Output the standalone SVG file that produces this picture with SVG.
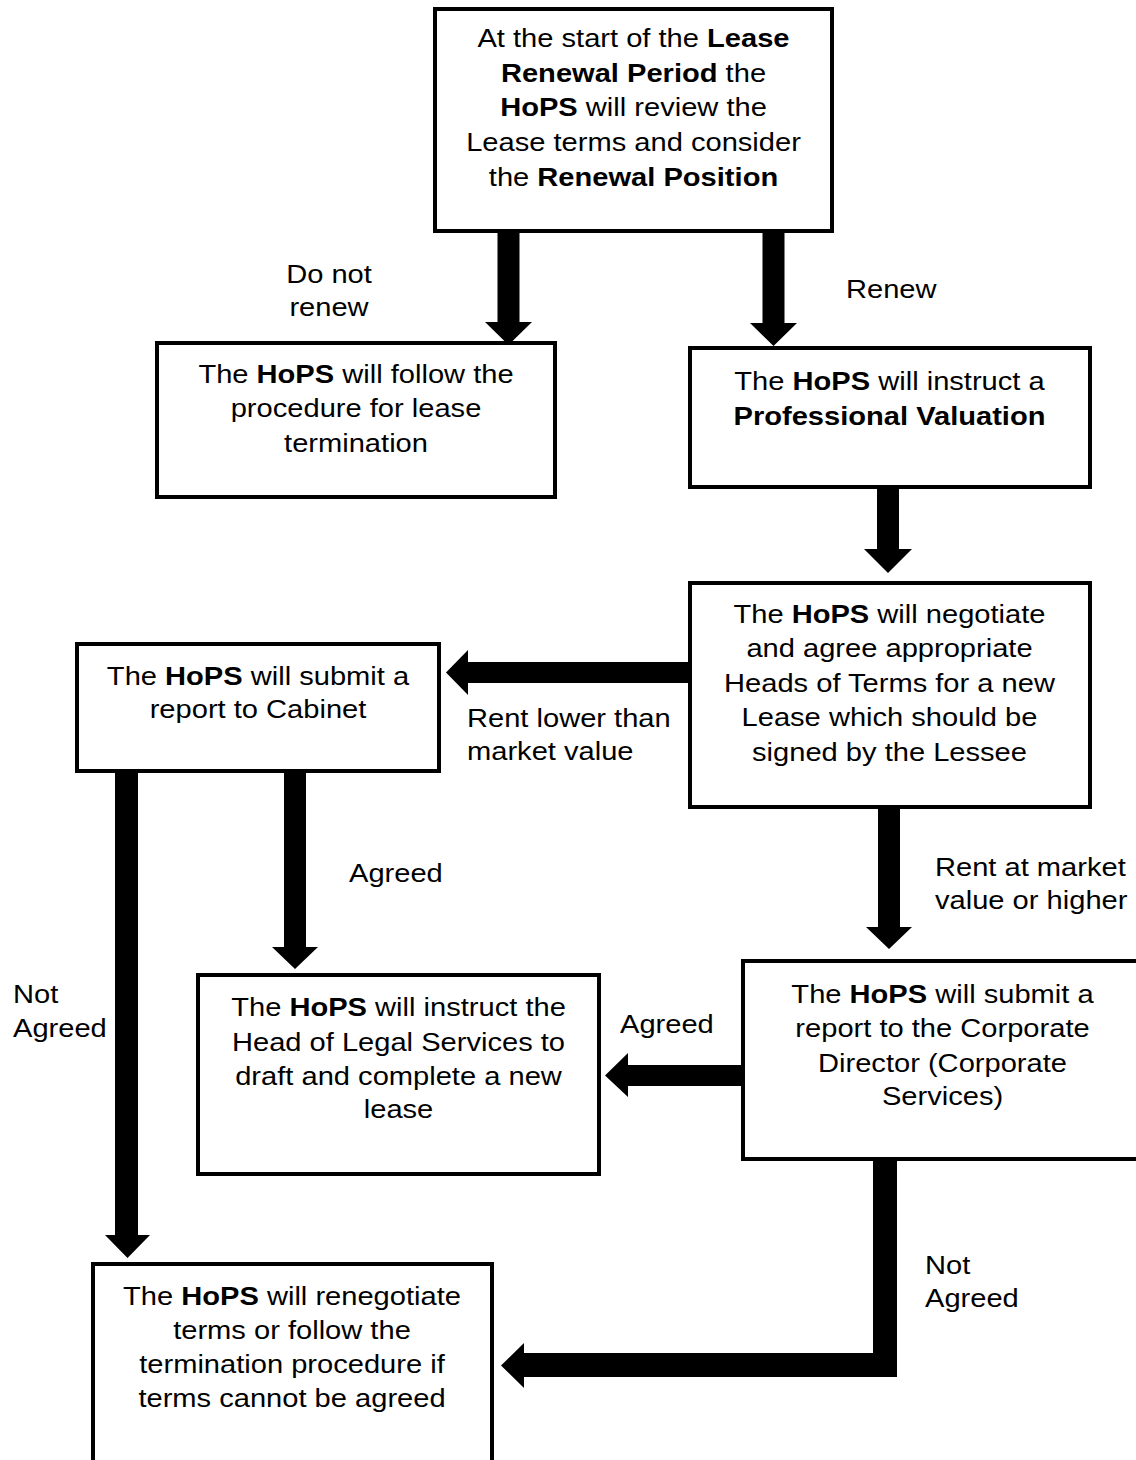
<svg xmlns="http://www.w3.org/2000/svg" width="1136" height="1460" viewBox="0 0 1136 1460">
  <style>
    .box { fill: #ffffff; stroke: #000000; stroke-width: 4; }
    .arrow { fill: #000000; }
    text { font-family: "Liberation Sans", Arial, sans-serif; font-size: 25.6px; fill: #000000; }
    .c { text-anchor: middle; }
    .l { text-anchor: start; }
    .b { font-weight: bold; }
  </style>
  <rect x="0" y="0" width="1136" height="1460" fill="#ffffff"/>

  <!-- connectors: thick block arrows -->
  <g id="connectors">
    <!-- start -> do not renew -->
    <polygon class="arrow" points="497.5,231 519.5,231 519.5,322 532,322 508.5,345 485,322 497.5,322"/>
    <!-- start -> renew -->
    <polygon class="arrow" points="762.5,231 784.5,231 784.5,323 797,323 773.5,346 750,323 762.5,323"/>
    <!-- valuation -> negotiate -->
    <polygon class="arrow" points="877,487 899,487 899,549 912,549 888,573 864,549 877,549"/>
    <!-- negotiate -> cabinet -->
    <polygon class="arrow" points="690,662 690,683 468,683 468,695 446,672.5 468,650 468,662"/>
    <!-- negotiate -> corporate director -->
    <polygon class="arrow" points="878,807 900,807 900,927 912,927 889,949 866,927 878,927"/>
    <!-- cabinet -> legal (agreed) -->
    <polygon class="arrow" points="284,772 306,772 306,947 318,947 295,969 272,947 284,947"/>
    <!-- cabinet -> renegotiate (not agreed) -->
    <polygon class="arrow" points="115,772 138,772 138,1235 150,1235 127.5,1258 105,1235 115,1235"/>
    <!-- corporate director -> legal (agreed) -->
    <polygon class="arrow" points="743,1065 743,1086 628,1086 628,1097 605,1075.5 628,1053 628,1065"/>
    <!-- corporate director -> renegotiate (not agreed) -->
    <polygon class="arrow" points="873,1159 897,1159 897,1377 524,1377 524,1388 501,1365.5 524,1343 524,1353 873,1353"/>
  </g>

  <!-- connector labels -->
  <g id="labels">
    <text class="c" transform="translate(329 0) scale(1.137 1)" x="0" y="283">Do not</text>
    <text class="c" transform="translate(329 0) scale(1.137 1)" x="0" y="316">renew</text>
    <text class="l" transform="translate(846 0) scale(1.137 1)" x="0" y="298">Renew</text>
    <text class="l" transform="translate(467 0) scale(1.137 1)" x="0" y="727">Rent lower than</text>
    <text class="l" transform="translate(467 0) scale(1.137 1)" x="0" y="760">market value</text>
    <text class="l" transform="translate(349 0) scale(1.137 1)" x="0" y="882">Agreed</text>
    <text class="l" transform="translate(935 0) scale(1.137 1)" x="0" y="876">Rent at market</text>
    <text class="l" transform="translate(935 0) scale(1.137 1)" x="0" y="909">value or higher</text>
    <text class="l" transform="translate(13 0) scale(1.137 1)" x="0" y="1003">Not</text>
    <text class="l" transform="translate(13 0) scale(1.137 1)" x="0" y="1037">Agreed</text>
    <text class="l" transform="translate(620 0) scale(1.137 1)" x="0" y="1033">Agreed</text>
    <text class="l" transform="translate(925 0) scale(1.137 1)" x="0" y="1274">Not</text>
    <text class="l" transform="translate(925 0) scale(1.137 1)" x="0" y="1307">Agreed</text>
  </g>

  <!-- start of lease renewal period -->
  <g id="node-start">
    <rect class="box" x="435" y="9" width="397" height="222"/>
    <g transform="translate(633.5 0) scale(1.137 1)">
      <text class="c" x="0" y="47">At the start of the <tspan class="b">Lease</tspan></text>
      <text class="c" x="0" y="81.7"><tspan class="b">Renewal Period</tspan> the</text>
      <text class="c" x="0" y="116.4"><tspan class="b">HoPS</tspan> will review the</text>
      <text class="c" x="0" y="151.1">Lease terms and consider</text>
      <text class="c" x="0" y="185.8">the <tspan class="b">Renewal Position</tspan></text>
    </g>
  </g>

  <!-- do not renew: termination -->
  <g id="node-termination">
    <rect class="box" x="157" y="343" width="398" height="154"/>
    <g transform="translate(356 0) scale(1.137 1)">
      <text class="c" x="0" y="383">The <tspan class="b">HoPS</tspan> will follow the</text>
      <text class="c" x="0" y="417.4">procedure for lease</text>
      <text class="c" x="0" y="451.8">termination</text>
    </g>
  </g>

  <!-- renew: professional valuation -->
  <g id="node-valuation">
    <rect class="box" x="690" y="348" width="400" height="139"/>
    <g transform="translate(889.5 0) scale(1.137 1)">
      <text class="c" x="0" y="390">The <tspan class="b">HoPS</tspan> will instruct a</text>
      <text class="c" x="0" y="425.5"><tspan class="b">Professional Valuation</tspan></text>
    </g>
  </g>

  <!-- heads of terms negotiation -->
  <g id="node-negotiate">
    <rect class="box" x="690" y="583" width="400" height="224"/>
    <g transform="translate(889.5 0) scale(1.137 1)">
      <text class="c" x="0" y="623">The <tspan class="b">HoPS</tspan> will negotiate</text>
      <text class="c" x="0" y="657.4">and agree appropriate</text>
      <text class="c" x="0" y="691.8">Heads of Terms for a new</text>
      <text class="c" x="0" y="726.2">Lease which should be</text>
      <text class="c" x="0" y="760.6">signed by the Lessee</text>
    </g>
  </g>

  <!-- report to cabinet -->
  <g id="node-cabinet">
    <rect class="box" x="77" y="644" width="362" height="127"/>
    <g transform="translate(258 0) scale(1.137 1)">
      <text class="c" x="0" y="685">The <tspan class="b">HoPS</tspan> will submit a</text>
      <text class="c" x="0" y="718.5">report to Cabinet</text>
    </g>
  </g>

  <!-- instruct legal services -->
  <g id="node-legal">
    <rect class="box" x="198" y="975" width="401" height="199"/>
    <g transform="translate(398.5 0) scale(1.137 1)">
      <text class="c" x="0" y="1016.5">The <tspan class="b">HoPS</tspan> will instruct the</text>
      <text class="c" x="0" y="1051">Head of Legal Services to</text>
      <text class="c" x="0" y="1085.5">draft and complete a new</text>
      <text class="c" x="0" y="1118.5">lease</text>
    </g>
  </g>

  <!-- report to corporate director -->
  <g id="node-director">
    <rect class="box" x="743" y="961" width="400" height="198"/>
    <g transform="translate(942.5 0) scale(1.137 1)">
      <text class="c" x="0" y="1002.7">The <tspan class="b">HoPS</tspan> will submit a</text>
      <text class="c" x="0" y="1037.2">report to the Corporate</text>
      <text class="c" x="0" y="1071.7">Director (Corporate</text>
      <text class="c" x="0" y="1105.5">Services)</text>
    </g>
  </g>

  <!-- renegotiate or terminate -->
  <g id="node-renegotiate">
    <rect class="box" x="93" y="1264" width="399" height="210"/>
    <g transform="translate(292 0) scale(1.137 1)">
      <text class="c" x="0" y="1305">The <tspan class="b">HoPS</tspan> will renegotiate</text>
      <text class="c" x="0" y="1339">terms or follow the</text>
      <text class="c" x="0" y="1373">termination procedure if</text>
      <text class="c" x="0" y="1407">terms cannot be agreed</text>
    </g>
  </g>
</svg>
